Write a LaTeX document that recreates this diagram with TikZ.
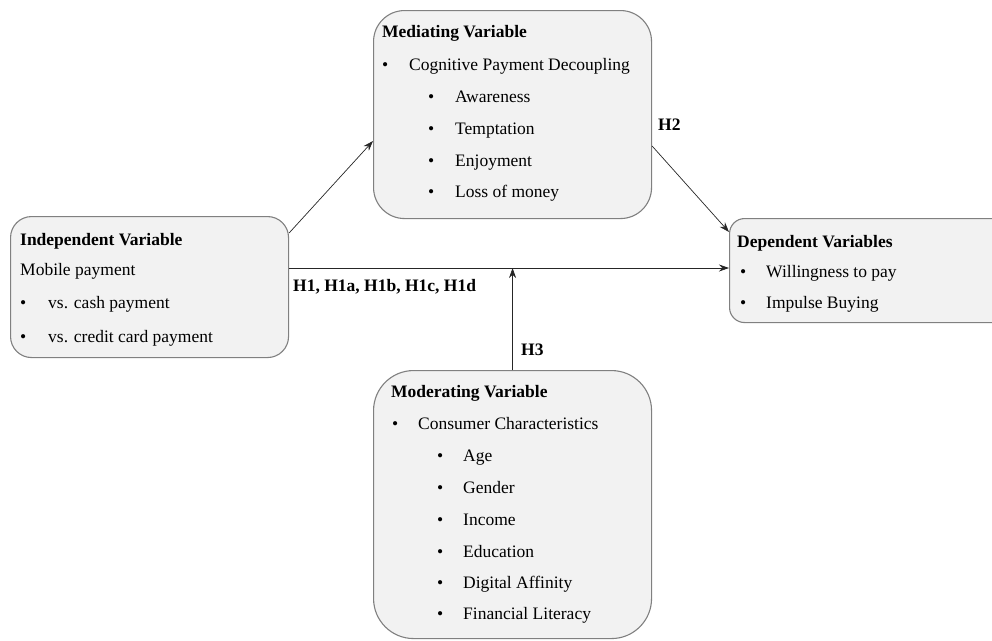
\documentclass[tikz,border=0pt]{standalone}
\usepackage{fontspec}
\setmainfont{Liberation Serif}
\usetikzlibrary{arrows.meta,calc}
\begin{document}
\begin{tikzpicture}[x=1pt,y=-1pt,
  box/.style={draw=black!50,fill=black!5,line width=1.1pt,anchor=north west,inner sep=0pt},
  txt/.style={anchor=base west,inner sep=0pt,font=\fontsize{17.5}{20}\selectfont},
  hd/.style={txt,font=\fontsize{17.5}{20}\selectfont\bfseries},
  conn/.style={draw=black!85,line width=0.7pt,-{Stealth[length=10pt,width=7pt]}}]
\useasboundingbox (0,0) rectangle (992,640);
% boxes
\node[box,rounded corners=21pt,minimum width=278pt,minimum height=141pt] (indep) at (10,216) {};
\node[box,rounded corners=31pt,minimum width=278pt,minimum height=208pt] (med) at (373,10) {};
\node[box,rounded corners=15pt,minimum width=290pt,minimum height=104pt] (dep) at (729,218) {};
\node[box,rounded corners=40pt,minimum width=278pt,minimum height=268pt] (mod) at (373,370) {};
% independent
\node[hd] (i0) at (20,245) {Independent Variable};
\node[txt] (i1) at (20,275) {Mobile payment};
\node[txt] (i2b) at (20,308) {•};
\node[txt] (i2) at (48,308) {vs. cash payment};
\node[txt] (i3b) at (20,342) {•};
\node[txt] (i3) at (48,342) {vs. credit card payment};
% mediating
\node[hd] (m0) at (382,37) {Mediating Variable};
\node[txt] (m1b) at (382,70) {•};
\node[txt] (m1) at (409,70) {Cognitive Payment Decoupling};
\foreach \t/\y [count=\k] in {Awareness/102,Temptation/134,Enjoyment/166,Loss of money/197}{
  \node[txt] (mb\k) at (428,\y) {•};
  \node[txt] (ms\k) at (455,\y) {\t};
}
% dependent
\node[hd] (d0) at (737,247) {Dependent Variables};
\node[txt] (d1b) at (740,277) {•};
\node[txt] (d1) at (766,277) {Willingness to pay};
\node[txt] (d2b) at (740,308) {•};
\node[txt] (d2) at (766,308) {Impulse Buying};
% moderating
\node[hd] (o0) at (391,397) {Moderating Variable};
\node[txt] (o1b) at (392,429) {•};
\node[txt] (o1) at (418,429) {Consumer Characteristics};
\foreach \t/\y [count=\k] in {Age/461,Gender/493,Income/525,Education/557,Digital Affinity/588,Financial Literacy/619}{
  \node[txt] (ob\k) at (437,\y) {•};
  \node[txt] (os\k) at (463,\y) {\t};
}
% connector points
\coordinate (A) at ($(indep.north east)+(0,17)$);
\coordinate (B) at ($(med.north west)+(0,131)$);
\coordinate (C) at ($(med.north east)+(0,136)$);
\coordinate (D) at ($(dep.north west)+(0,14)$);
\coordinate (E) at ($(indep.north east)+(0,52)$);
\coordinate (F) at ($(dep.north west)+(0,50)$);
\coordinate (G) at ($(E)!(mod.north)!(F)$);
\draw[conn] (A) -- (B);
\draw[conn] (C) -- (D);
\draw[conn] (E) -- (F);
\draw[conn] (mod.north) -- (G);
% labels
\node[hd] (h2) at (658,130) {H2};
\node[hd] (h1) at (293,291) {H1, H1a, H1b, H1c, H1d};
\node[hd] (h3) at (521,355) {H3};
\end{tikzpicture}
\end{document}
